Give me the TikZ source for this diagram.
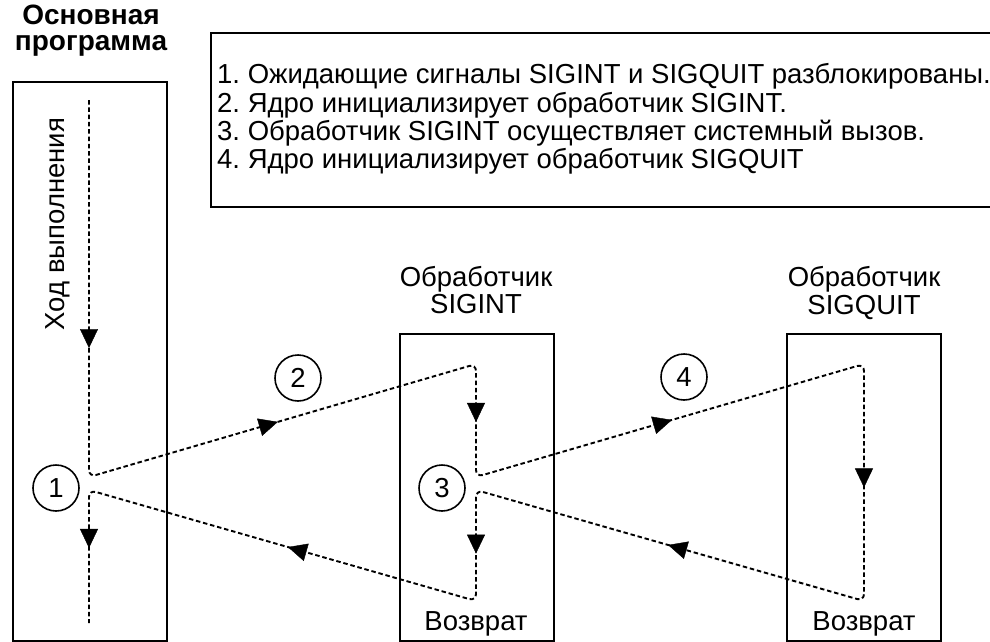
\documentclass[tikz,border=0pt]{standalone}
\usepackage{fontspec}
\setmainfont{Liberation Sans}
\frenchspacing
\usetikzlibrary{arrows.meta,decorations.markings}
\tikzset{
  x=1pt, y=-1pt,
  frame/.style={draw, line width=1.8pt, inner sep=0pt},
  flow/.style={line width=1.9pt, dash pattern=on 4.5pt off 2.8pt, rounded corners=7pt},
  arrat/.style={decorate, decoration={markings, mark=at position #1 with {\arrow{Triangle[length=19pt,width=18pt]}}}},
  num/.style={circle, draw, line width=1.6pt, minimum size=46pt, inner sep=0pt, font=\fontsize{27.5}{27.5}\selectfont},
  lbl/.style={inner sep=0pt, font=\fontsize{27.5}{31}\selectfont},
  hd/.style={inner sep=0pt, font=\bfseries\fontsize{28}{31}\selectfont}
}
\begin{document}
\begin{tikzpicture}
\useasboundingbox (0,0) rectangle (990,642);
% boxes
\node[frame, minimum width=154pt, minimum height=559pt] (mainbox) at (90,361.5) {};
\node[frame, minimum width=154pt, minimum height=307pt] (intbox) at (477,487.5) {};
\node[frame, minimum width=154pt, minimum height=307pt] (quitbox) at (864,487.5) {};
% legend box (open on the right)
\coordinate (lg1) at (990,33);
\coordinate (lg2) at (211,33);
\coordinate (lg3) at (211,207);
\coordinate (lg4) at (990,207);
\draw[line width=1.8pt] (lg1) -- (lg2) -- (lg3) -- (lg4);
\node[lbl, anchor=base west] (l1) at (217,83) {1. Ожидающие сигналы SIGINT и SIGQUIT разблокированы.};
\node[lbl, anchor=base west] (l2) at (217,112) {2. Ядро инициализирует обработчик SIGINT.};
\node[lbl, anchor=base west] (l3) at (217,140) {3. Обработчик SIGINT осуществляет системный вызов.};
\node[lbl, anchor=base west] (l4) at (217,168) {4. Ядро инициализирует обработчик SIGQUIT};
% headings
\node[hd, anchor=base] (h1) at (91,25) {Основная};
\node[hd, anchor=base] (h2) at (91,51) {программа};
\node[lbl, anchor=base, rotate=90] (run) at (64,224) {Ход выполнения};
\node[lbl, anchor=base] (t1) at (476,286) {Обработчик};
\node[lbl, anchor=base] (t2) at (476,313) {SIGINT};
\node[lbl, anchor=base] (q1) at (864,286) {Обработчик};
\node[lbl, anchor=base] (q2) at (864,314) {SIGQUIT};
\node[lbl, anchor=base] (r1) at (476,630) {Возврат};
\node[lbl, anchor=base] (r2) at (864,630) {Возврат};
% circled numbers
\node[num] (n1) at (56,488) {1};
\node[num] (n2) at (298,378) {2};
\node[num] (n3) at (442,488) {3};
\node[num] (n4) at (684,377) {4};
% flow points
\coordinate (p0) at (89,100);
\coordinate (p1) at (89,477);
\coordinate (p2) at (476,364);
\coordinate (p3) at (476,477);
\coordinate (p4) at (864,364);
\coordinate (p5) at (864,601);
\coordinate (p6) at (476,490);
\coordinate (p7) at (476,601);
\coordinate (p8) at (89,490);
\coordinate (p9) at (89,623);
\draw[flow] (p0) -- (p1) -- (p2) -- (p3) -- (p4) -- (p5) -- (p6) -- (p7) -- (p8) -- (p9);
% arrowheads
\path[arrat=0.658] (p0) -- (p1);
\path[arrat=0.488] (p1) -- (p2);
\path[arrat=0.513] (p2) -- (p3);
\path[arrat=0.505] (p3) -- (p4);
\path[arrat=0.521] (p4) -- (p5);
\path[arrat=0.505] (p5) -- (p6);
\path[arrat=0.573] (p6) -- (p7);
\path[arrat=0.486] (p7) -- (p8);
\path[arrat=0.436] (p8) -- (p9);
\end{tikzpicture}
\end{document}
